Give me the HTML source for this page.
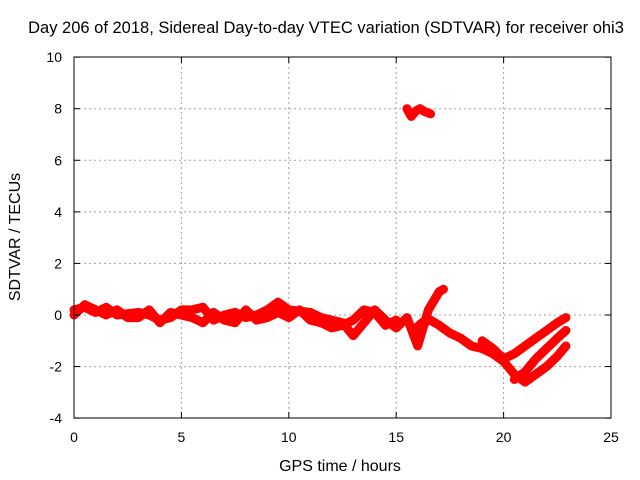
<!DOCTYPE html>
<html><head><meta charset="utf-8"><style>
body{margin:0;background:#fff;}
svg{display:block;font-family:"Liberation Sans",sans-serif;}
</style></head><body>
<svg id="chart" width="640" height="480">
<rect width="640" height="480" fill="#fff"/>
<text x="326" y="33" font-size="16.5" text-anchor="middle">Day 206 of 2018, Sidereal Day-to-day VTEC variation (SDTVAR) for receiver ohi3</text>
<g id="grid"></g>
<g id="series"></g>
<rect x="74" y="57" width="537" height="361" fill="none" stroke="#000"/>
<g id="ticks"></g>
<text x="340" y="471" font-size="16" text-anchor="middle">GPS time / hours</text>
<text transform="translate(20,237) rotate(-90)" font-size="16" text-anchor="middle">SDTVAR / TECUs</text>
</svg>
<script>
const xTicks=[0,5,10,15,20,25];
const yTicks=[-4,-2,0,2,4,6,8,10];
const trackA_t=[0,0.5,1,1.5,2,2.5,3,3.5,4,4.5,5,5.5,6,6.5,7,7.5,8,8.5,9,9.5,10,10.5,11,11.5,12,12.5,13,13.5,14,14.5,15,15.5,16,16.5,17,17.2];
const trackA_v=[0.2,0.3,0.1,0.3,0,0.05,0.1,0,-0.2,-0.1,0.2,0.2,0.3,-0.2,0,0.1,-0.1,0,0.2,0.5,0.2,0.15,0.1,-0.1,-0.2,-0.3,-0.8,-0.3,0.2,-0.2,-0.5,-0.1,-1.2,0.2,0.9,1.0];
const trackB_t=[0,0.5,1,1.5,2,2.5,3,3.5,4,4.5,5,5.5,6,6.5,7,7.5,8,8.5,9,9.5,10,10.5,11,11.5,12,12.5,13,13.5,14,14.5,15];
const trackB_v=[0,0.4,0.2,0,0.2,-0.1,-0.1,0.2,-0.3,0.1,0,-0.1,-0.3,0.1,-0.2,-0.3,0.2,-0.2,-0.1,0.1,-0.1,0.2,-0.2,-0.3,-0.5,-0.4,-0.2,0.2,0.1,-0.4,-0.2];
const trackC_t=[15.8,16.2,16.6,17,17.5,18,18.5,19,19.5,20,20.5,21,21.5,22,22.5,22.9];
const trackC_v=[-0.6,-0.3,-0.2,-0.4,-0.7,-0.9,-1.2,-1.3,-1.5,-1.8,-2.3,-2.6,-2.3,-2.0,-1.6,-1.2];
const trackD_t=[19,19.5,20,20.5,21,21.5,22,22.5,22.9];
const trackD_v=[-1.0,-1.3,-1.7,-1.5,-1.2,-0.9,-0.6,-0.3,-0.1];
const trackE_t=[20.5,21,21.5,22,22.5,22.9];
const trackE_v=[-2.5,-2.2,-1.7,-1.3,-0.9,-0.6];
const trackF_t=[15.5,15.7,15.9,16.1,16.3,16.6];
const trackF_v=[8.0,7.7,7.9,8.0,7.9,7.8];
const X=t=>74+t*(537/25), Y=v=>315-v*(361/14);
const NS="http://www.w3.org/2000/svg";
const grid=document.getElementById('grid'),ticks=document.getElementById('ticks'),ser=document.getElementById('series');
function mk(tag,a,p){const e=document.createElementNS(NS,tag);for(const k in a)e.setAttribute(k,a[k]);p.appendChild(e);return e;}
xTicks.forEach(t=>{const x=X(t);
 if(t>0&&t<25){const g=mk('line',{x1:x,x2:x,y1:57,y2:418,stroke:'#a0a0a0','stroke-dasharray':'2,3'},grid);}
 mk('line',{x1:x,x2:x,y1:418,y2:412,stroke:'#000'},ticks);mk('line',{x1:x,x2:x,y1:57,y2:63,stroke:'#000'},ticks);
 const l=mk('text',{x:x,y:442,'font-size':14,'text-anchor':'middle'},ticks);l.textContent=t;
 });
yTicks.forEach(v=>{const y=Y(v);
 if(v>-4&&v<10){const g=mk('line',{x1:74,x2:611,y1:y,y2:y,stroke:'#a0a0a0','stroke-dasharray':'2,3'},grid);}
 mk('line',{x1:74,x2:80,y1:y,y2:y,stroke:'#000'},ticks);mk('line',{x1:605,x2:611,y1:y,y2:y,stroke:'#000'},ticks);
 const l=mk('text',{x:62,y:y+5,'font-size':14,'text-anchor':'end'},ticks);l.textContent=v;
 });
function track(ts,vs,name){const pts=ts.map((t,i)=>X(t)+','+Y(vs[i])).join(' ');
 const p=mk('polyline',{points:pts,fill:'none',stroke:'#f00','stroke-width':9,'stroke-linejoin':'round','stroke-linecap':'round'},ser);
 }
track(trackA_t,trackA_v,'sdtvar-track-a');
track(trackB_t,trackB_v,'sdtvar-track-b');
track(trackC_t,trackC_v,'sdtvar-track-c');
track(trackD_t,trackD_v,'sdtvar-track-d');
track(trackE_t,trackE_v,'sdtvar-track-e');
track(trackF_t,trackF_v,'sdtvar-track-f');
</script>
</body></html>
